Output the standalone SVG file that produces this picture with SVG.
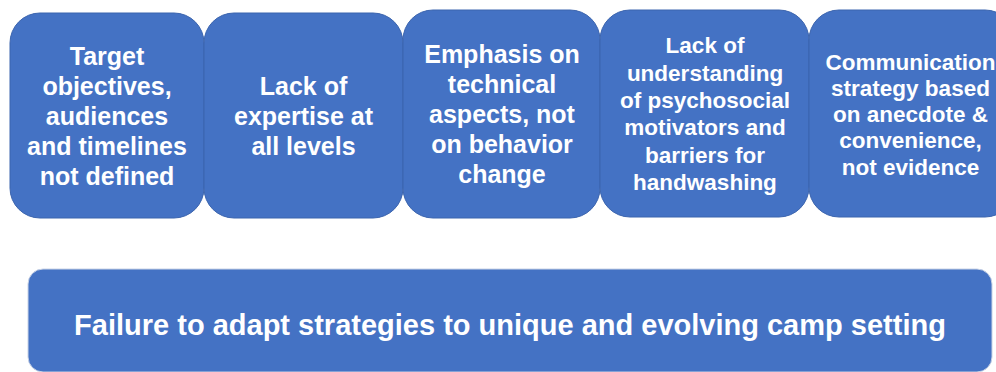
<svg xmlns="http://www.w3.org/2000/svg" width="996" height="372" viewBox="0 0 996 372">
  <style>
    .box { fill: #4472C4; stroke: #3B64AE; stroke-width: 1; }
    .base { fill: #4472C4; stroke: #C9D3E6; stroke-width: 1; }
    .t { fill: #FFFFFF; font-family: "Liberation Sans", Arial, sans-serif; font-weight: bold; text-anchor: middle; }
    .l { font-size: 25px; }
    .s { font-size: 22.5px; }
    .b { font-size: 29px; }
  </style>
  <rect width="996" height="372" fill="#FFFFFF"/>

  <g id="node-objectives">
    <rect class="box" x="10" y="13" width="194" height="205" rx="30" ry="30"/>
    <text class="t l" x="107" y="65">Target</text>
    <text class="t l" x="107" y="95">objectives,</text>
    <text class="t l" x="107" y="125">audiences</text>
    <text class="t l" x="107" y="155">and timelines</text>
    <text class="t l" x="107" y="185">not defined</text>
  </g>

  <g id="node-expertise">
    <rect class="box" x="204" y="13" width="199" height="205" rx="30" ry="30"/>
    <text class="t l" x="303.5" y="95">Lack of</text>
    <text class="t l" x="303.5" y="125">expertise at</text>
    <text class="t l" x="303.5" y="155">all levels</text>
  </g>

  <g id="node-technical">
    <rect class="box" x="403" y="10" width="197" height="208" rx="30" ry="30"/>
    <text class="t l" x="502" y="63">Emphasis on</text>
    <text class="t l" x="502" y="93">technical</text>
    <text class="t l" x="502" y="123">aspects, not</text>
    <text class="t l" x="502" y="153">on behavior</text>
    <text class="t l" x="502" y="183">change</text>
  </g>

  <g id="node-psychosocial">
    <rect class="box" x="600" y="10" width="209" height="207" rx="30" ry="30"/>
    <text class="t s" x="705" y="53">Lack of</text>
    <text class="t s" x="705" y="81">understanding</text>
    <text class="t s" x="705" y="108">of psychosocial</text>
    <text class="t s" x="705" y="135">motivators and</text>
    <text class="t s" x="705" y="163">barriers for</text>
    <text class="t s" x="705" y="190">handwashing</text>
  </g>

  <g id="node-communication">
    <rect class="box" x="809" y="10" width="206" height="207" rx="30" ry="30"/>
    <text class="t s" x="910.5" y="69.5">Communication</text>
    <text class="t s" x="910.5" y="96">strategy based</text>
    <text class="t s" x="910.5" y="121.5">on anecdote &amp;</text>
    <text class="t s" x="910.5" y="148">convenience,</text>
    <text class="t s" x="910.5" y="174.5">not evidence</text>
  </g>

  <g id="node-failure">
    <rect class="base" x="28" y="269" width="964" height="103" rx="15" ry="15"/>
    <text class="t b" x="510" y="335">Failure to adapt strategies to unique and evolving camp setting</text>
  </g>

  <g id="connectors"></g>
</svg>
